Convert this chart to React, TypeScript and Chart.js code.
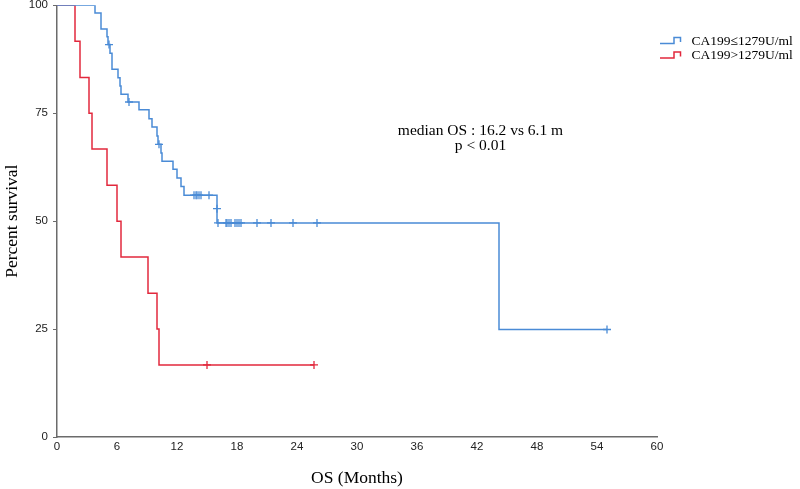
import React, { useEffect, useRef } from "react";
import { Chart, registerables } from "chart.js";

Chart.register(...registerables);

// Kaplan–Meier steps: time (months) -> survival (%)
const blueTimes = [0, 3.8, 4.4, 5.0, 5.1, 5.3, 5.5, 6.1, 6.3, 6.4, 7.1, 8.2, 9.2, 9.5, 10.0, 10.1, 10.4, 10.5, 11.6, 12.0, 12.4, 12.7, 16.0, 16.0, 44.2, 55.0];
const blueSurv = [100, 98.2, 94.5, 92.7, 90.9, 88.9, 85.2, 83.2, 81.3, 79.4, 77.6, 75.8, 73.7, 71.8, 69.7, 67.8, 65.8, 63.9, 62.0, 60.0, 58.0, 56.0, 52.9, 49.6, 24.9, 24.9];
const blueCensorTimes = [5.2, 7.2, 10.2, 13.7, 13.9, 14.0, 14.2, 14.4, 15.2, 16.0, 16.1, 16.9, 17.0, 17.2, 17.4, 17.8, 18.0, 18.2, 18.4, 20.0, 21.4, 23.6, 26.0, 55.0];
const blueCensorSurv = [90.9, 77.6, 67.8, 56, 56, 56, 56, 56, 56, 52.9, 49.6, 49.6, 49.6, 49.6, 49.6, 49.6, 49.6, 49.6, 49.6, 49.6, 49.6, 49.6, 49.6, 24.9];

const redTimes = [0, 1.8, 2.3, 3.2, 3.5, 5.0, 6.0, 6.4, 9.1, 10.0, 10.2, 25.7];
const redSurv = [100, 91.7, 83.3, 75, 66.7, 58.3, 50, 41.7, 33.3, 25, 16.7, 16.7];
const redCensorTimes = [15.0, 25.7];
const redCensorSurv = [16.7, 16.7];

const xTicks = [0, 6, 12, 18, 24, 30, 36, 42, 48, 54, 60];
const yTicks = [0, 25, 50, 75, 100];
const legendLabels = ["CA199\u22641279U/ml", "CA199>1279U/ml"];
const annotationLines = ["median OS : 16.2 vs 6.1 m", "p < 0.01"];

const BLUE = "#4a8bd6";
const RED = "#e2283d";
const SERIF = "'Liberation Serif', 'Times New Roman', serif";
const SANS = "'Liberation Sans', Arial, sans-serif";

const toPts = (xs: number[], ys: number[]) => xs.map((x, i) => ({ x, y: ys[i] }));

const overlayPlugin = {
  id: "overlay",
  afterDraw(chart: any) {
    const ctx = chart.ctx as CanvasRenderingContext2D;
    ctx.save();
    // legend
    const colors = [BLUE, RED];
    const ys = [41, 55.5];
    legendLabels.forEach((lbl, i) => {
      const y = ys[i];
      ctx.strokeStyle = colors[i];
      ctx.lineWidth = 1.5;
      ctx.beginPath();
      ctx.moveTo(660, y + 2.5);
      ctx.lineTo(674, y + 2.5);
      ctx.lineTo(674, y - 3.5);
      ctx.lineTo(680.5, y - 3.5);
      ctx.lineTo(680.5, y + 1);
      ctx.stroke();
      ctx.fillStyle = "#000";
      ctx.font = `13.5px ${SERIF}`;
      ctx.textAlign = "left";
      ctx.textBaseline = "middle";
      ctx.fillText(lbl, 691.5, y);
    });
    // annotation
    ctx.font = `15.5px ${SERIF}`;
    ctx.textAlign = "center";
    ctx.textBaseline = "middle";
    ctx.fillStyle = "#000";
    ctx.fillText(annotationLines[0], 480.5, 130.5);
    ctx.fillText(annotationLines[1], 480.5, 145.5);
    ctx.restore();
  },
};

export default function App() {
  const ref = useRef<HTMLCanvasElement | null>(null);
  useEffect(() => {
    if (!ref.current) return;
    const lineDs = (label: string, data: any[], color: string) => ({
      type: "line" as const,
      label,
      data,
      borderColor: color,
      backgroundColor: color,
      borderWidth: 1.5,
      stepped: true,
      pointRadius: 0,
      fill: false,
    });
    const censorDs = (label: string, data: any[], color: string) => ({
      type: "scatter" as const,
      label,
      data,
      borderColor: color,
      backgroundColor: color,
      pointStyle: "cross",
      pointRadius: 4,
      borderWidth: 1.3,
      showLine: false,
    });
    const chart = new Chart(ref.current, {
      type: "line",
      data: {
        datasets: [
          lineDs(legendLabels[0], toPts(blueTimes, blueSurv), BLUE),
          lineDs(legendLabels[1], toPts(redTimes, redSurv), RED),
          censorDs("c1", toPts(blueCensorTimes, blueCensorSurv), BLUE),
          censorDs("c2", toPts(redCensorTimes, redCensorSurv), RED),
        ] as any,
      },
      options: {
        animation: false,
        responsive: false,
        layout: { padding: { top: 5, right: 143, bottom: 0, left: 0 } },
        plugins: { legend: { display: false }, tooltip: { enabled: false } },
        scales: {
          x: {
            type: "linear",
            min: 0,
            max: 60,
            afterBuildTicks: (s: any) => {
              s.ticks = xTicks.map((v) => ({ value: v }));
            },
            afterFit: (s: any) => {
              s.height = 52;
            },
            ticks: { font: { family: SANS, size: 11.5 }, color: "#222", padding: 3 },
            grid: { display: false, drawTicks: false },
            border: { display: true, color: "#6b6b6b", width: 1.5 },
            title: {
              display: true,
              text: "OS (Months)",
              font: { family: SERIF, size: 17.5 },
              color: "#000",
              padding: { top: 0, bottom: 0.5 },
            },
          },
          y: {
            type: "linear",
            min: 0,
            max: 100,
            afterBuildTicks: (s: any) => {
              s.ticks = yTicks.map((v) => ({ value: v }));
            },
            afterFit: (s: any) => {
              s.width = 57;
              s.paddingTop = 0;
              s.paddingBottom = 0;
            },
            ticks: { font: { family: SANS, size: 11.5 }, color: "#222", padding: 5 },
            grid: {
              display: true,
              drawOnChartArea: false,
              drawTicks: true,
              tickLength: 4,
              color: "#6b6b6b",
              lineWidth: 1,
            },
            border: { display: true, color: "#6b6b6b", width: 1.5 },
            title: {
              display: true,
              text: "Percent survival",
              font: { family: SERIF, size: 17.5 },
              color: "#000",
              padding: { top: 1.5, bottom: 0 },
            },
          },
        },
      } as any,
      plugins: [overlayPlugin],
    });
    return () => chart.destroy();
  }, []);
  return (
    <div style={{ position: "absolute", left: 0, top: 0, width: 800, height: 489, background: "#fff" }}>
      <canvas ref={ref} width={800} height={489} style={{ display: "block" }} />
    </div>
  );
}
